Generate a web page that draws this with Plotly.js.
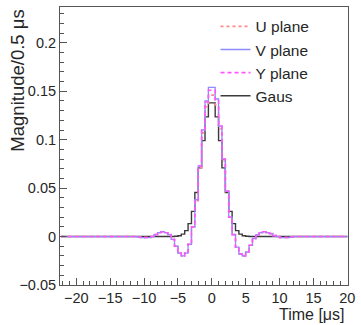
<!DOCTYPE html>
<html>
<head>
<meta charset="utf-8">
<script src="https://cdn.plot.ly/plotly-3.0.1.min.js"></script>
<style>html,body{margin:0;padding:0;background:#fff;}#chart{width:361px;height:325px;}</style>
</head>
<body>
<div id="chart"></div>
<script>
// Left bin edges (µs); each value holds from its edge to the next edge (0.5 µs bins)
const binEdges = [-22.25, -12, -11.5, -11, -10.5, -10, -9.5, -9, -8.5, -8, -7.5, -7, -6.5, -6, -5.5, -5, -4.5, -4, -3.5, -3, -2.5, -2, -1.5, -1, -0.5,
  0, 0.5, 1, 1.5, 2, 2.5, 3, 3.5, 4, 4.5, 5, 5.5, 6, 6.5, 7, 7.5, 8, 8.5, 9, 9.5, 10, 10.5, 11, 11.5, 12, 20];

const uPlane = [0, 0, 0, -0.0005, -0.001, -0.001, -0.001, 0.000, 0.002, 0.004, 0.005, 0.004, 0.002, -0.003, -0.010, -0.017, -0.020, -0.017, -0.008, 0.010, 0.037, 0.071, 0.107, 0.134, 0.146,
  0.146, 0.136, 0.111, 0.078, 0.046, 0.020, 0.002, -0.011, -0.018, -0.020, -0.016, -0.009, -0.002, 0.002, 0.004, 0.005, 0.004, 0.003, 0.001, 0.000, -0.001, -0.001, -0.001, -0.0005, 0, 0];

const vPlane = [0, 0, 0, -0.0005, -0.001, -0.001, -0.001, 0.000, 0.002, 0.004, 0.005, 0.004, 0.002, -0.003, -0.010, -0.017, -0.020, -0.017, -0.008, 0.010, 0.038, 0.073, 0.110, 0.140, 0.154,
  0.154, 0.142, 0.114, 0.080, 0.047, 0.020, 0.002, -0.011, -0.018, -0.020, -0.016, -0.009, -0.002, 0.002, 0.004, 0.005, 0.004, 0.003, 0.001, 0.000, -0.001, -0.001, -0.001, -0.0005, 0, 0];

const yPlane = [0, 0, 0, -0.0005, -0.001, -0.001, -0.001, 0.000, 0.002, 0.004, 0.005, 0.004, 0.002, -0.003, -0.010, -0.017, -0.020, -0.017, -0.008, 0.010, 0.038, 0.073, 0.110, 0.139, 0.151,
  0.151, 0.141, 0.114, 0.080, 0.047, 0.020, 0.002, -0.011, -0.018, -0.020, -0.016, -0.009, -0.002, 0.002, 0.004, 0.005, 0.004, 0.003, 0.001, 0.000, -0.001, -0.001, -0.001, -0.0005, 0, 0];

const gaus = [0, 0, 0, 0, 0, 0, 0, 0, 0, 0, 0, 0, 0, 0, 0.0003, 0.0009, 0.0025, 0.0061, 0.0134, 0.026, 0.0455, 0.0709, 0.099, 0.1236, 0.138,
  0.138, 0.1236, 0.099, 0.0709, 0.0455, 0.026, 0.0134, 0.0061, 0.0025, 0.0009, 0.0003, 0, 0, 0, 0, 0, 0, 0, 0, 0, 0, 0, 0, 0, 0, 0];

const seriesNames = ['U plane', 'V plane', 'Y plane', 'Gaus'];

const textColor = '#262626';
const fam = 'Liberation Sans, Arial, Helvetica, sans-serif';
const tickFont = {family: fam, size: 14.5, color: textColor};

function step(y, name, color, dash, width, rank) {
  return {x: binEdges, y: y, name: name, type: 'scatter', mode: 'lines', legendrank: rank,
    line: {shape: 'hv', color: color, dash: dash, width: width}, hoverinfo: 'skip'};
}

const data = [
  step(gaus, seriesNames[3], '#3a3a3a', 'solid', 1.4, 4),
  step(uPlane, seriesNames[0], '#ff8a8a', 'dot', 1.6, 1),
  step(vPlane, seriesNames[1], '#8c8cff', 'solid', 1.3, 2),
  step(yPlane, seriesNames[2], '#ff55ff', '4px,3px', 1.6, 3)
];

const axisCommon = {
  showgrid: false, zeroline: false, showline: true, mirror: true,
  linecolor: '#555555', linewidth: 1, ticks: 'inside', tickcolor: '#555555',
  ticklen: 7, tickwidth: 1, tickfont: tickFont
};

const layout = {
  width: 361, height: 325,
  margin: {l: 60, r: 13, t: 7, b: 40},
  paper_bgcolor: '#ffffff', plot_bgcolor: '#ffffff',
  font: tickFont,
  showlegend: true,
  legend: {x: 0.54, y: 0.99, xanchor: 'left', yanchor: 'top', bgcolor: 'rgba(0,0,0,0)',
    font: {family: fam, size: 15.5, color: textColor},
    itemwidth: 30, tracegroupgap: 0, traceorder: 'normal'},
  xaxis: Object.assign({}, axisCommon, {
    range: [-22.4, 20.1], tickmode: 'linear', tick0: 0, dtick: 5,
    minor: {ticks: 'inside', ticklen: 4, dtick: 1, tickcolor: '#555555'}
  }),
  yaxis: Object.assign({}, axisCommon, {
    range: [-0.05, 0.237], tickmode: 'linear', tick0: 0, dtick: 0.05,
    minor: {ticks: 'inside', ticklen: 4, dtick: 0.01, tickcolor: '#555555'}
  }),
  annotations: [
    {text: 'Magnitude/0.5 μs', textangle: -90, xref: 'paper', yref: 'paper',
      x: -0.149, y: 0.998, xanchor: 'center', yanchor: 'top', showarrow: false,
      font: {family: fam, size: 18.5, color: textColor}},
    {text: 'Time [μs]', xref: 'paper', yref: 'paper', x: 0.998, y: -0.068,
      xanchor: 'right', yanchor: 'top', showarrow: false,
      font: {family: fam, size: 16, color: textColor}}
  ]
};

Plotly.newPlot('chart', data, layout, {staticPlot: true, displayModeBar: false});
</script>
</body>
</html>
